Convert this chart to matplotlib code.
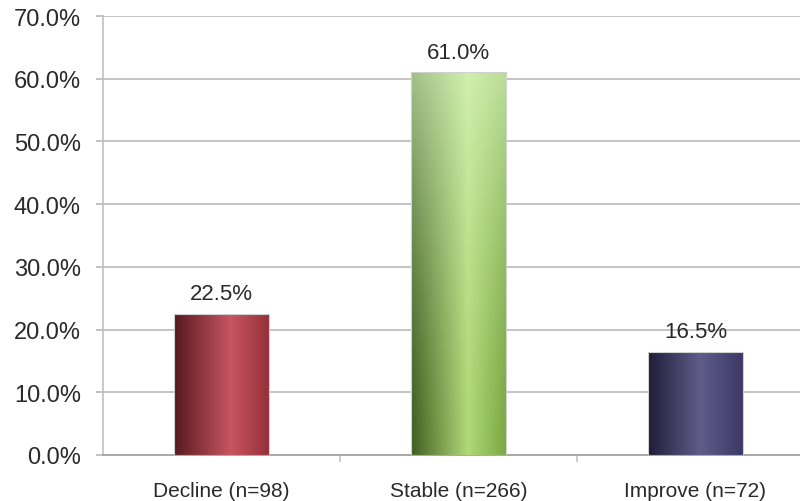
import numpy as np
import matplotlib
matplotlib.use("Agg")
import matplotlib.pyplot as plt
from matplotlib.colors import LinearSegmentedColormap
from matplotlib.ticker import FuncFormatter, FixedLocator

# change in status across the cohort
categories = ["Decline (n=98)", "Stable (n=266)", "Improve (n=72)"]
percent = [22.5, 61.0, 16.5]

# horizontal shading for each bar (left edge, highlight, right edge)
shades = [
    [(0.0, "#561820"), (0.6, "#c85560"), (1.0, "#943038")],
    [(0.0, "#3e5e1e"), (0.6, "#b0d878"), (1.0, "#7aa842")],
    [(0.0, "#1e1c36"), (0.55, "#605c8a"), (1.0, "#3c3866")],
]

plt.rcParams["font.family"] = ["Liberation Sans", "DejaVu Sans"]

fig = plt.figure(figsize=(8, 5.02), dpi=100)
ax = fig.add_axes([103 / 800, 1 - 456 / 502, 711 / 800, 439 / 502])

x = np.arange(len(categories))
width = 0.4
bars = ax.bar(x, percent, width, color="none", edgecolor="#d0d0d0",
              linewidth=0.8, zorder=4)

ncol, nrow = 160, 40
s = (np.arange(ncol) + 0.5) / ncol
for i, (bar, stops) in enumerate(zip(bars, shades)):
    cmap = LinearSegmentedColormap.from_list("s%d" % i, stops)
    rgb = cmap(s)[:, :3]
    img = np.tile(rgb[None, :, :], (nrow, 1, 1))
    if i == 1:
        # the tall bar gets lighter toward its top
        t = ((np.arange(nrow) + 0.5) / nrow)[:, None, None] ** 1.5
        light = np.array([0.90, 1.0, 0.82])
        img = img + (light - img) * 0.6 * t
    x0, y0 = bar.get_x(), bar.get_y()
    w, h = bar.get_width(), bar.get_height()
    xe = np.linspace(x0, x0 + w, ncol + 1)
    ye = np.linspace(y0, y0 + h, nrow + 1)
    ax.pcolormesh(xe, ye, img, shading="flat", edgecolors="none",
                  antialiased=False, zorder=3)
    ax.annotate("%.1f%%" % percent[i], (x0 + w / 2, y0 + h),
                xytext=(0, 7), textcoords="offset points",
                ha="center", va="bottom", fontsize=16, color="#2a2a2a")

ax.set_xlim(-0.5, 2.5)
ax.set_ylim(0, 70)
ax.set_yticks(np.arange(0, 71, 10))
ax.yaxis.set_major_formatter(FuncFormatter(lambda v, p: "%.1f%%" % v))
ax.grid(axis="y", color="#c4c4c4", linewidth=1.4, zorder=0)

ax.set_xticks(x)
ax.set_xticklabels(categories, color="#2a2a2a")
ax.xaxis.set_minor_locator(FixedLocator([0.5, 1.5]))
ax.tick_params(axis="x", which="major", length=0, pad=19, labelsize=15)
ax.tick_params(axis="x", which="minor", length=5, color="#c4c4c4", width=1.2)
ax.tick_params(axis="y", length=5, color="#b8b8b8", width=1.2, pad=11,
               labelsize=17, labelcolor="#2a2a2a")

for side in ["top", "right"]:
    ax.spines[side].set_visible(False)
ax.spines["left"].set_color("#c0c0c0")
ax.spines["left"].set_linewidth(1.2)
ax.spines["bottom"].set_color("#a8a8a8")
ax.spines["bottom"].set_linewidth(1.4)

fig.savefig("out.png", dpi=100)
